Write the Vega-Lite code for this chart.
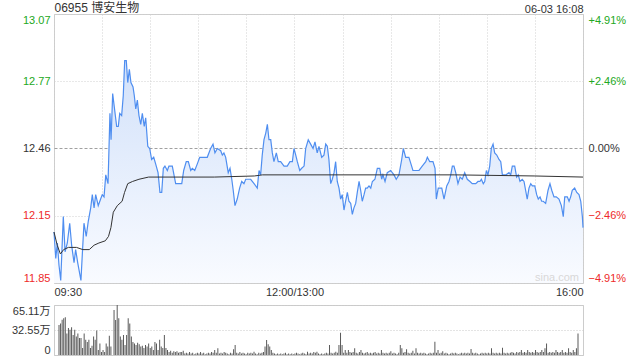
{
  "$schema": "https://vega.github.io/schema/vega-lite/v6.json",
  "background": "white",
  "padding": {"left": 10, "right": 0, "top": 0, "bottom": 0},
  "spacing": 6,
  "config": {
    "font": "Liberation Sans, Noto Sans CJK SC",
    "view": {"stroke": "#cccccc"},
    "axis": {"labelFont": "Liberation Sans, Noto Sans CJK SC", "labelFontSize": 11, "labelColor": "#333333", "domain": false, "ticks": false, "title": null, "gridColor": "#d4d4d4", "gridDash": [1, 2], "labelOverlap": false}
  },
  "datasets": {
    "price": [
      {"t":0,"p":12.08},{"t":1.1,"p":11.96},{"t":2.1,"p":12.03},{"t":3.1,"p":11.93},{"t":4.2,"p":11.86},{"t":5.8,"p":12.15},{"t":6.9,"p":11.99},{"t":8.3,"p":12.03},{"t":9.8,"p":12.12},{"t":11.0,"p":12.02},{"t":12.5,"p":11.94},{"t":13.5,"p":12.0},{"t":14.8,"p":11.94},{"t":16.8,"p":11.86},{"t":18.7,"p":12.12},{"t":20.1,"p":12.06},{"t":21.4,"p":12.13},{"t":22.9,"p":12.19},{"t":23.9,"p":12.25},{"t":25.0,"p":12.19},{"t":26.0,"p":12.25},{"t":27.6,"p":12.2},{"t":29.1,"p":12.23},{"t":30.1,"p":12.25},{"t":31.2,"p":12.24},{"t":32.3,"p":12.34},{"t":33.7,"p":12.3},{"t":34.3,"p":12.46},{"t":34.9,"p":12.62},{"t":35.6,"p":12.5},{"t":36.6,"p":12.71},{"t":37.6,"p":12.65},{"t":39.1,"p":12.56},{"t":40.1,"p":12.56},{"t":41.0,"p":12.62},{"t":42.2,"p":12.61},{"t":43.2,"p":12.7},{"t":44.1,"p":12.86},{"t":45.1,"p":12.86},{"t":46.0,"p":12.76},{"t":47.0,"p":12.82},{"t":48.0,"p":12.76},{"t":49.3,"p":12.74},{"t":50.1,"p":12.7},{"t":51.0,"p":12.64},{"t":52.0,"p":12.68},{"t":53.0,"p":12.61},{"t":54.1,"p":12.57},{"t":55.1,"p":12.62},{"t":56.3,"p":12.56},{"t":57.2,"p":12.6},{"t":58.5,"p":12.47},{"t":59.7,"p":12.46},{"t":60.9,"p":12.41},{"t":62.2,"p":12.42},{"t":63.4,"p":12.39},{"t":64.9,"p":12.35},{"t":66.1,"p":12.26},{"t":67.2,"p":12.26},{"t":68.2,"p":12.37},{"t":69.2,"p":12.38},{"t":70.7,"p":12.36},{"t":71.7,"p":12.38},{"t":73.8,"p":12.38},{"t":75.9,"p":12.3},{"t":78.0,"p":12.3},{"t":79.7,"p":12.3},{"t":80.9,"p":12.36},{"t":82.5,"p":12.4},{"t":83.8,"p":12.4},{"t":85.3,"p":12.36},{"t":86.3,"p":12.37},{"t":87.8,"p":12.36},{"t":89.4,"p":12.39},{"t":90.9,"p":12.42},{"t":95.6,"p":12.42},{"t":97.7,"p":12.46},{"t":99.2,"p":12.48},{"t":100.4,"p":12.44},{"t":101.9,"p":12.46},{"t":104.0,"p":12.45},{"t":105.0,"p":12.43},{"t":106.0,"p":12.44},{"t":107.1,"p":12.42},{"t":108.7,"p":12.35},{"t":109.8,"p":12.37},{"t":110.9,"p":12.32},{"t":111.8,"p":12.27},{"t":112.9,"p":12.2},{"t":114.3,"p":12.23},{"t":115.8,"p":12.28},{"t":117.1,"p":12.31},{"t":118.5,"p":12.3},{"t":119.6,"p":12.32},{"t":122.7,"p":12.32},{"t":124.8,"p":12.3},{"t":126.8,"p":12.28},{"t":127.9,"p":12.36},{"t":128.9,"p":12.34},{"t":129.9,"p":12.43},{"t":131.0,"p":12.5},{"t":132.1,"p":12.53},{"t":133.1,"p":12.57},{"t":134.1,"p":12.5},{"t":135.2,"p":12.5},{"t":136.2,"p":12.44},{"t":137.2,"p":12.4},{"t":138.7,"p":12.44},{"t":139.9,"p":12.4},{"t":141.4,"p":12.4},{"t":143.5,"p":12.38},{"t":145.5,"p":12.38},{"t":147.2,"p":12.4},{"t":148.7,"p":12.4},{"t":149.7,"p":12.46},{"t":150.8,"p":12.43},{"t":151.8,"p":12.4},{"t":153.3,"p":12.36},{"t":154.5,"p":12.37},{"t":156.0,"p":12.38},{"t":157.0,"p":12.46},{"t":158.6,"p":12.5},{"t":160.1,"p":12.48},{"t":161.6,"p":12.46},{"t":162.8,"p":12.49},{"t":164.2,"p":12.44},{"t":165.3,"p":12.47},{"t":167.0,"p":12.42},{"t":168.4,"p":12.43},{"t":169.5,"p":12.48},{"t":170.5,"p":12.47},{"t":171.5,"p":12.41},{"t":172.6,"p":12.3},{"t":173.6,"p":12.32},{"t":174.7,"p":12.35},{"t":175.7,"p":12.4},{"t":176.7,"p":12.31},{"t":177.8,"p":12.28},{"t":178.8,"p":12.23},{"t":179.8,"p":12.25},{"t":180.9,"p":12.18},{"t":181.9,"p":12.22},{"t":183.0,"p":12.26},{"t":184.0,"p":12.22},{"t":185.1,"p":12.21},{"t":186.1,"p":12.16},{"t":187.1,"p":12.19},{"t":188.2,"p":12.21},{"t":189.2,"p":12.26},{"t":190.3,"p":12.31},{"t":191.3,"p":12.27},{"t":192.3,"p":12.22},{"t":193.4,"p":12.25},{"t":194.4,"p":12.28},{"t":195.4,"p":12.28},{"t":196.5,"p":12.29},{"t":197.6,"p":12.28},{"t":198.6,"p":12.31},{"t":200.2,"p":12.32},{"t":201.7,"p":12.37},{"t":203.2,"p":12.37},{"t":204.4,"p":12.32},{"t":205.2,"p":12.34},{"t":206.5,"p":12.31},{"t":207.9,"p":12.35},{"t":210.0,"p":12.36},{"t":212.1,"p":12.34},{"t":213.5,"p":12.32},{"t":215.2,"p":12.34},{"t":216.9,"p":12.41},{"t":217.9,"p":12.46},{"t":219.4,"p":12.42},{"t":221.4,"p":12.42},{"t":223.1,"p":12.38},{"t":223.9,"p":12.36},{"t":227.7,"p":12.36},{"t":229.7,"p":12.38},{"t":231.9,"p":12.4},{"t":232.9,"p":12.42},{"t":234.4,"p":12.4},{"t":236.4,"p":12.4},{"t":237.7,"p":12.37},{"t":238.5,"p":12.23},{"t":239.7,"p":12.28},{"t":241.9,"p":12.28},{"t":243.3,"p":12.23},{"t":245.0,"p":12.29},{"t":246.4,"p":12.31},{"t":247.5,"p":12.34},{"t":248.5,"p":12.38},{"t":249.5,"p":12.38},{"t":250.6,"p":12.35},{"t":252.0,"p":12.3},{"t":253.3,"p":12.33},{"t":254.7,"p":12.32},{"t":256.2,"p":12.35},{"t":257.8,"p":12.32},{"t":259.5,"p":12.31},{"t":260.9,"p":12.3},{"t":263.1,"p":12.3},{"t":264.5,"p":12.31},{"t":265.7,"p":12.31},{"t":266.6,"p":12.32},{"t":267.8,"p":12.3},{"t":268.7,"p":12.31},{"t":269.7,"p":12.36},{"t":270.7,"p":12.34},{"t":271.8,"p":12.38},{"t":272.8,"p":12.46},{"t":273.9,"p":12.48},{"t":274.9,"p":12.44},{"t":276.2,"p":12.43},{"t":277.6,"p":12.41},{"t":278.7,"p":12.4},{"t":279.7,"p":12.34},{"t":281.8,"p":12.34},{"t":283.8,"p":12.35},{"t":284.9,"p":12.34},{"t":285.9,"p":12.38},{"t":287.4,"p":12.38},{"t":288.6,"p":12.33},{"t":289.6,"p":12.34},{"t":290.7,"p":12.31},{"t":292.1,"p":12.32},{"t":293.2,"p":12.31},{"t":294.2,"p":12.27},{"t":295.2,"p":12.23},{"t":296.3,"p":12.28},{"t":297.4,"p":12.3},{"t":298.4,"p":12.29},{"t":299.9,"p":12.29},{"t":301.1,"p":12.25},{"t":302.1,"p":12.23},{"t":303.2,"p":12.24},{"t":304.2,"p":12.22},{"t":305.2,"p":12.22},{"t":306.7,"p":12.21},{"t":308.2,"p":12.27},{"t":309.4,"p":12.3},{"t":310.5,"p":12.27},{"t":311.9,"p":12.24},{"t":313.3,"p":12.24},{"t":315.0,"p":12.23},{"t":316.5,"p":12.2},{"t":317.7,"p":12.15},{"t":318.6,"p":12.24},{"t":320.2,"p":12.24},{"t":321.3,"p":12.22},{"t":322.3,"p":12.24},{"t":323.3,"p":12.27},{"t":324.8,"p":12.28},{"t":326.1,"p":12.26},{"t":327.5,"p":12.25},{"t":328.6,"p":12.22},{"t":329.6,"p":12.15},{"t":330,"p":12.1}
    ],
    "avg": [
      {"t":0,"a":12.08},{"t":2,"a":12.02},{"t":4,"a":11.98},{"t":6,"a":12.0},{"t":9,"a":12.01},{"t":14,"a":12.01},{"t":18,"a":12.0},{"t":22,"a":12.0},{"t":25,"a":12.02},{"t":28,"a":12.03},{"t":32,"a":12.04},{"t":34,"a":12.06},{"t":35.5,"a":12.1},{"t":37,"a":12.17},{"t":39.5,"a":12.2},{"t":42.5,"a":12.22},{"t":44,"a":12.26},{"t":46,"a":12.3},{"t":49,"a":12.31},{"t":53,"a":12.32},{"t":59,"a":12.33},{"t":100,"a":12.33},{"t":125,"a":12.335},{"t":130,"a":12.34},{"t":250,"a":12.34},{"t":300,"a":12.335},{"t":330,"a":12.33}
    ],
    "vol": [
      {"t":0,"v":39},{"t":1,"v":41},{"t":2,"v":46},{"t":3,"v":48},{"t":4,"v":49},{"t":5,"v":28},{"t":6,"v":35},{"t":7,"v":33},{"t":8,"v":36},{"t":9,"v":26},{"t":10,"v":33},{"t":11,"v":24},{"t":12,"v":28},{"t":13,"v":22},{"t":14,"v":22},{"t":15,"v":9},{"t":16,"v":28},{"t":17,"v":20},{"t":18,"v":17},{"t":19,"v":20},{"t":20,"v":9},{"t":21,"v":12},{"t":22,"v":24},{"t":23,"v":20},{"t":24,"v":32},{"t":25,"v":6.5},{"t":26,"v":15},{"t":27,"v":4},{"t":28,"v":6.5},{"t":29,"v":4},{"t":30,"v":15},{"t":31,"v":11},{"t":32,"v":25},{"t":33,"v":11},{"t":35,"v":58.6},{"t":36,"v":45.6},{"t":37,"v":65.1},{"t":38,"v":48},{"t":39,"v":24},{"t":40,"v":20},{"t":41,"v":26},{"t":42,"v":13},{"t":43,"v":26},{"t":44,"v":48},{"t":45,"v":41},{"t":46,"v":24},{"t":47,"v":17},{"t":48,"v":15},{"t":49,"v":13},{"t":50,"v":16},{"t":51,"v":14},{"t":52,"v":11},{"t":53,"v":12},{"t":54,"v":9},{"t":55,"v":13},{"t":56,"v":11},{"t":57,"v":15},{"t":58,"v":9},{"t":59,"v":11},{"t":60,"v":6.5},{"t":61,"v":17},{"t":62,"v":15},{"t":63,"v":6.5},{"t":64,"v":20},{"t":65,"v":11},{"t":66,"v":9},{"t":67,"v":26},{"t":68,"v":9},{"t":69,"v":6.5},{"t":70,"v":4},{"t":71,"v":5.6},{"t":72,"v":3},{"t":73,"v":5},{"t":74,"v":4},{"t":75,"v":5},{"t":76,"v":3},{"t":77,"v":4},{"t":78,"v":4},{"t":79,"v":5.6},{"t":80,"v":2},{"t":81,"v":3},{"t":82,"v":2},{"t":83,"v":4},{"t":84,"v":2},{"t":85,"v":3},{"t":86,"v":1},{"t":87,"v":2},{"t":88,"v":3},{"t":89,"v":2},{"t":90,"v":4},{"t":91,"v":2},{"t":92,"v":3},{"t":93,"v":1},{"t":94,"v":2},{"t":95,"v":3},{"t":96,"v":2},{"t":97,"v":4},{"t":98,"v":3},{"t":99,"v":6.5},{"t":100,"v":3},{"t":101,"v":8.7},{"t":102,"v":2},{"t":103,"v":3},{"t":104,"v":2},{"t":105,"v":4},{"t":106,"v":3},{"t":107,"v":2},{"t":108,"v":1},{"t":109,"v":3},{"t":110,"v":2},{"t":111,"v":7.4},{"t":112,"v":13},{"t":113,"v":3},{"t":114,"v":2},{"t":115,"v":4},{"t":116,"v":2},{"t":117,"v":3},{"t":118,"v":2},{"t":119,"v":1},{"t":120,"v":3},{"t":121,"v":2},{"t":122,"v":3},{"t":123,"v":2},{"t":124,"v":4.3},{"t":125,"v":2},{"t":126,"v":1},{"t":127,"v":3},{"t":128,"v":2},{"t":129,"v":3},{"t":130,"v":4},{"t":131,"v":11},{"t":132,"v":19.5},{"t":133,"v":14},{"t":134,"v":11},{"t":135,"v":6.5},{"t":136,"v":3},{"t":137,"v":2},{"t":138,"v":1},{"t":139,"v":2},{"t":140,"v":1},{"t":141,"v":2},{"t":142,"v":1},{"t":143,"v":2},{"t":144,"v":3},{"t":145,"v":1},{"t":146,"v":2},{"t":147,"v":1},{"t":148,"v":2},{"t":149,"v":1},{"t":150,"v":2},{"t":151,"v":3},{"t":152,"v":2},{"t":153,"v":1},{"t":154,"v":2},{"t":155,"v":3},{"t":156,"v":2},{"t":157,"v":1},{"t":158,"v":4.3},{"t":159,"v":2},{"t":160,"v":3},{"t":161,"v":2},{"t":162,"v":4},{"t":163,"v":3},{"t":164,"v":4.3},{"t":165,"v":2},{"t":166,"v":1},{"t":167,"v":2},{"t":168,"v":1},{"t":169,"v":2},{"t":170,"v":3},{"t":171,"v":2},{"t":172,"v":13},{"t":173,"v":3},{"t":174,"v":2},{"t":175,"v":3},{"t":176,"v":4.3},{"t":177,"v":3},{"t":178,"v":13},{"t":179,"v":29},{"t":180,"v":13},{"t":181,"v":3},{"t":182,"v":6.5},{"t":183,"v":3},{"t":184,"v":6.5},{"t":185,"v":4},{"t":186,"v":3},{"t":187,"v":4},{"t":188,"v":8.7},{"t":189,"v":3},{"t":190,"v":2},{"t":191,"v":4},{"t":192,"v":6.5},{"t":193,"v":3},{"t":194,"v":2},{"t":195,"v":3},{"t":196,"v":4},{"t":197,"v":2},{"t":198,"v":3},{"t":199,"v":2},{"t":200,"v":3},{"t":201,"v":4},{"t":202,"v":2},{"t":203,"v":3},{"t":204,"v":2},{"t":205,"v":6.5},{"t":206,"v":3},{"t":207,"v":2},{"t":208,"v":3},{"t":209,"v":2},{"t":210,"v":3},{"t":211,"v":5},{"t":212,"v":2},{"t":213,"v":3},{"t":214,"v":2},{"t":215,"v":1},{"t":216,"v":3},{"t":217,"v":13},{"t":218,"v":8.7},{"t":219,"v":3},{"t":220,"v":4},{"t":221,"v":7.4},{"t":222,"v":3},{"t":223,"v":2},{"t":224,"v":3},{"t":225,"v":5.6},{"t":226,"v":2},{"t":227,"v":8.7},{"t":228,"v":3},{"t":229,"v":2},{"t":230,"v":3},{"t":231,"v":2},{"t":232,"v":3},{"t":233,"v":2},{"t":234,"v":1},{"t":235,"v":2},{"t":236,"v":3},{"t":237,"v":2},{"t":238,"v":3},{"t":239,"v":17.4},{"t":240,"v":3},{"t":241,"v":6.5},{"t":242,"v":2},{"t":243,"v":3},{"t":244,"v":5},{"t":245,"v":2},{"t":246,"v":3},{"t":247,"v":2},{"t":248,"v":1},{"t":249,"v":2},{"t":250,"v":3},{"t":251,"v":2},{"t":252,"v":3},{"t":253,"v":2},{"t":254,"v":1},{"t":255,"v":2},{"t":256,"v":3},{"t":257,"v":2},{"t":258,"v":3},{"t":259,"v":2},{"t":260,"v":3},{"t":261,"v":2},{"t":262,"v":7.8},{"t":263,"v":3},{"t":264,"v":2},{"t":265,"v":3},{"t":266,"v":2},{"t":267,"v":1},{"t":268,"v":2},{"t":269,"v":3},{"t":270,"v":2},{"t":271,"v":3},{"t":272,"v":2},{"t":273,"v":3},{"t":274,"v":2},{"t":275,"v":8.7},{"t":276,"v":3},{"t":277,"v":2},{"t":278,"v":3},{"t":279,"v":2},{"t":280,"v":3},{"t":281,"v":2},{"t":282,"v":9.5},{"t":283,"v":3},{"t":284,"v":2},{"t":285,"v":3},{"t":286,"v":2},{"t":287,"v":3},{"t":288,"v":4},{"t":289,"v":3},{"t":290,"v":2},{"t":291,"v":4},{"t":292,"v":3},{"t":293,"v":4},{"t":294,"v":6.5},{"t":295,"v":3},{"t":296,"v":4},{"t":297,"v":3},{"t":298,"v":6.5},{"t":299,"v":4},{"t":300,"v":3},{"t":301,"v":4},{"t":302,"v":3},{"t":303,"v":6.5},{"t":304,"v":4},{"t":305,"v":3},{"t":306,"v":4},{"t":307,"v":6.5},{"t":308,"v":4},{"t":309,"v":8.7},{"t":310,"v":15},{"t":311,"v":3},{"t":312,"v":4},{"t":313,"v":3},{"t":314,"v":4},{"t":315,"v":3},{"t":316,"v":6.5},{"t":317,"v":4},{"t":318,"v":3},{"t":319,"v":4},{"t":320,"v":6.5},{"t":321,"v":3},{"t":322,"v":4},{"t":323,"v":3},{"t":324,"v":8.7},{"t":325,"v":4},{"t":326,"v":3},{"t":327,"v":6.5},{"t":328,"v":4},{"t":329,"v":8.7},{"t":330,"v":28}
    ]
  },
  "vconcat": [
    {
      "width": 529,
      "height": 269,
      "resolve": {"axis": {"x": "independent", "y": "independent"}},
      "layer": [
        {
          "data": {"name": "price"},
          "mark": {"type": "area", "color": {"x1": 0, "y1": 0, "x2": 0, "y2": 1, "gradient": "linear", "stops": [{"offset": 0, "color": "#d2e1fa"}, {"offset": 1, "color": "#f9fbff"}]}},
          "encoding": {
            "x": {"field": "t", "type": "quantitative", "scale": {"domain": [0, 330], "nice": false, "zero": false},
              "axis": {"orient": "bottom", "values": [0, 30, 60, 90, 120, 150, 180, 210, 240, 270, 300, 330], "grid": true, "gridColor": "#d0d0d0", "gridDash": [1, 2], "labelExpr": "datum.value==0?'09:30':datum.value==150?'12:00/13:00':datum.value==330?'16:00':''", "labelFlush": true, "labelPadding": 3, "labelColor": "#333333"}},
            "y": {"field": "p", "type": "quantitative", "scale": {"domain": [11.848, 13.072], "nice": false, "zero": false},
              "axis": {"orient": "left", "values": [11.848, 12.153, 12.46, 12.766, 13.072], "grid": true, "gridColor": {"condition": {"test": "abs(datum.value-12.46)<0.001", "value": "#a0a0a0"}, "value": "#d0d0d0"}, "gridDash": {"condition": {"test": "abs(datum.value-12.46)<0.001", "value": [3, 2]}, "value": [1, 2]}, "labelExpr": "format(datum.value,'.2f')", "labelFlush": true, "labelPadding": 4, "labelColor": {"expr": "datum.value>12.47?'#22a822':datum.value<12.45?'#ee2a2a':'#333333'"}}},
            "y2": {"datum": 11.848}
          }
        },
        {
          "data": {"name": "price"},
          "mark": {"type": "line", "color": "#4f8ef0", "strokeWidth": 1.2},
          "encoding": {
            "x": {"field": "t", "type": "quantitative", "scale": {"domain": [0, 330], "nice": false, "zero": false},
              "axis": {"orient": "top", "values": [0, 330], "grid": false, "labelExpr": "datum.value==0?'06955 博安生物':'06-03 16:08'", "labelFlush": true, "labelPadding": 0, "labelFontSize": {"expr": "datum.value==0?12:11"}, "labelColor": "#333333"}},
            "y": {"field": "p", "type": "quantitative", "scale": {"domain": [11.848, 13.072], "nice": false, "zero": false},
              "axis": {"orient": "right", "values": [11.848, 12.153, 12.46, 12.766, 13.072], "grid": false, "labelFlush": true, "labelPadding": 5, "labelExpr": "(datum.value>12.461?'+':'')+format((datum.value-12.46)/12.46*100,'.2f')+'%'", "labelColor": {"expr": "datum.value>12.47?'#22a822':datum.value<12.45?'#ee2a2a':'#333333'"}}}
          }
        },
        {
          "data": {"name": "avg"},
          "mark": {"type": "line", "color": "#333333", "strokeWidth": 1},
          "encoding": {
            "x": {"field": "t", "type": "quantitative", "axis": null},
            "y": {"field": "a", "type": "quantitative", "axis": null}
          }
        },
        {
          "data": {"values": [{}]},
          "mark": {"type": "text", "align": "right", "baseline": "bottom", "color": "#d8d8d8", "fontSize": 11, "dx": -4, "dy": 0},
          "encoding": {
            "x": {"datum": 330, "type": "quantitative", "axis": null},
            "y": {"datum": 11.848, "type": "quantitative", "axis": null},
            "text": {"value": "sina.com"}
          }
        }
      ]
    },
    {
      "width": 529,
      "height": 50,
      "data": {"name": "vol"},
      "mark": {"type": "bar", "color": "#5a5a5a", "size": 1},
      "encoding": {
        "x": {"field": "t", "type": "quantitative", "scale": {"domain": [0, 330], "nice": false, "zero": false}, "axis": null},
        "y": {"field": "v", "type": "quantitative", "scale": {"domain": [0, 65.11], "nice": false},
          "axis": {"values": [0, 32.555, 65.11], "grid": true, "gridColor": "#c8c8c8", "gridDash": [1, 2], "labelFlush": true, "labelPadding": 4, "labelExpr": "datum.value==0?'0':datum.value>60?'65.11万':'32.55万'"}}
      }
    }
  ]
}
